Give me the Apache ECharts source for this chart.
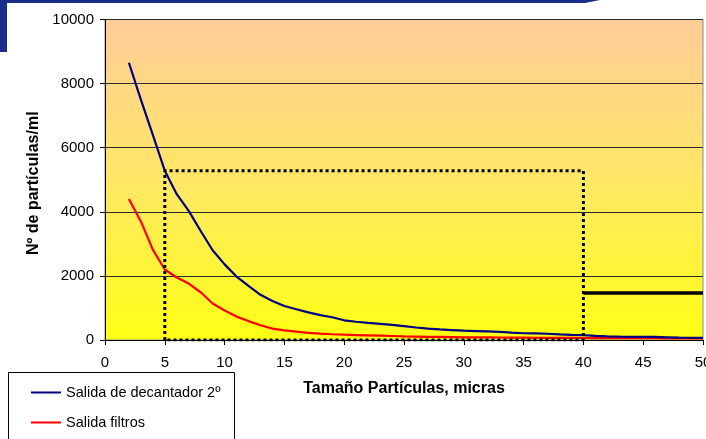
<!DOCTYPE html>
<html>
<head>
<meta charset="utf-8">
<script src="https://cdn.jsdelivr.net/npm/echarts@6/dist/echarts.min.js"></script>
<style>
html,body{margin:0;padding:0;background:#fff;}
#chart{width:706px;height:439px;}
</style>
</head>
<body>
<div id="chart"></div>
<script>
var sizes = [2,3,4,5,6,7,8,9,10,11,12,13,14,15,16,17,18,19,20,21,22,23,24,25,26,27,28,29,30,31,32,33,34,35,36,37,38,39,40,41,42,43,44,45,46,47,48,49,50];
var decantador = [8650,7500,6400,5280,4550,4030,3400,2800,2360,1980,1690,1410,1220,1060,960,860,775,710,615,570,535,505,470,430,390,355,330,310,290,280,270,255,230,210,205,195,175,160,150,130,115,105,100,100,95,85,75,70,65];
var filtros = [4400,3700,2820,2200,1950,1760,1490,1140,920,730,590,460,355,300,260,225,200,180,165,155,145,135,125,115,108,100,95,90,85,82,80,78,75,72,70,68,66,64,62,60,58,57,56,55,54,53,52,51,50];
var boxX = [5,5,40,40,5];
var boxY = [0,5280,5280,0,0];
var limitX = [40,50];
var limitY = [1470,1470];
var xTicks = [0,5,10,15,20,25,30,35,40,45,50];
var yTicks = [0,2000,4000,6000,8000,10000];

function pairs(xs, ys){ return xs.map(function(x,i){return [x, ys[i]];}); }

var chart = echarts.init(document.getElementById('chart'));
var font = 'Liberation Sans, Arial, sans-serif';
chart.setOption({
  backgroundColor: '#ffffff',
  animation: false,
  textStyle: {fontFamily: font},
  grid: {
    left: 105, top: 19.5, right: 3, bottom: 99,
    outerBoundsMode: 'none',
    containLabel: false,
    show: true,
    borderColor: '#8c8c8c', borderWidth: 1,
    backgroundColor: new echarts.graphic.LinearGradient(0,0,0,1,[
      {offset:0, color:'#FFCC99'},
      {offset:0.5, color:'#FFE766'},
      {offset:1, color:'#FFFF14'}
    ])
  },
  legend: {
    orient: 'vertical', left: 25, top: 380,
    itemWidth: 30, itemHeight: 14, itemGap: 15,
    itemStyle: {opacity: 0},
    data: ['Salida de decantador 2º','Salida filtros'],
    textStyle: {fontFamily: font, fontSize: 14.5, color: '#000'}
  },
  graphic: [
    {type:'rect', shape:{x:8.5, y:372.5, width:226, height:80}, style:{fill:'none', stroke:'#000', lineWidth:1}, z:-1},
    {type:'polygon', shape:{points:[[0,0],[600,0],[585,3],[7,3],[7,52],[0,52]]}, style:{fill:'#1B2D8A'}}
  ],
  xAxis: {
    type: 'value', min: 0, max: 50, interval: 5,
    name: 'Tamaño Partículas, micras', nameLocation: 'middle', nameGap: 41,
    nameTextStyle: {fontFamily: font, fontSize: 16, fontWeight: 'bold', color: '#000'},
    axisLine: {show: true, lineStyle: {color: '#000', width: 1}},
    axisTick: {show: true, length: 5, lineStyle: {color: '#000'}},
    axisLabel: {fontFamily: font, fontSize: 15, color: '#000', margin: 15, hideOverlap: false,
      formatter: function(v){ return xTicks.indexOf(v) >= 0 ? String(v) : ''; }},
    splitLine: {show: false}
  },
  yAxis: {
    type: 'value', min: 0, max: 10000, interval: 2000,
    name: 'Nº de partículas/ml', nameLocation: 'middle', nameGap: 60,
    nameTextStyle: {fontFamily: font, fontSize: 16, fontWeight: 'bold', color: '#000', padding: [0, 7, 0, 0]},
    axisLine: {show: true, lineStyle: {color: '#000', width: 1}},
    axisTick: {show: true, length: 5, inside: false, lineStyle: {color: '#000'}},
    axisLabel: {fontFamily: font, fontSize: 15, color: '#000', margin: 11,
      formatter: function(v){ return yTicks.indexOf(v) >= 0 ? String(v) : ''; }},
    splitLine: {show: true, lineStyle: {color: '#2b2b2b', width: 1}}
  },
  series: [
    {name: 'Salida de decantador 2º', type: 'line', data: pairs(sizes, decantador),
     symbol: 'none', lineStyle: {color: '#000080', width: 2.2}, itemStyle: {color: '#000080'}, z: 5},
    {name: 'Salida filtros', type: 'line', data: pairs(sizes, filtros),
     symbol: 'none', lineStyle: {color: '#FF0000', width: 2.2}, itemStyle: {color: '#FF0000'}, z: 4},
    {name: 'box', type: 'line', data: pairs(boxX, boxY), symbol: 'none',
     lineStyle: {color: '#000', width: 3, type: [3,3], cap: 'butt'}, z: 6},
    {name: 'limit', type: 'line', data: pairs(limitX, limitY), symbol: 'none',
     lineStyle: {color: '#000', width: 3.5}, z: 6}
  ]
});
</script>
</body>
</html>
